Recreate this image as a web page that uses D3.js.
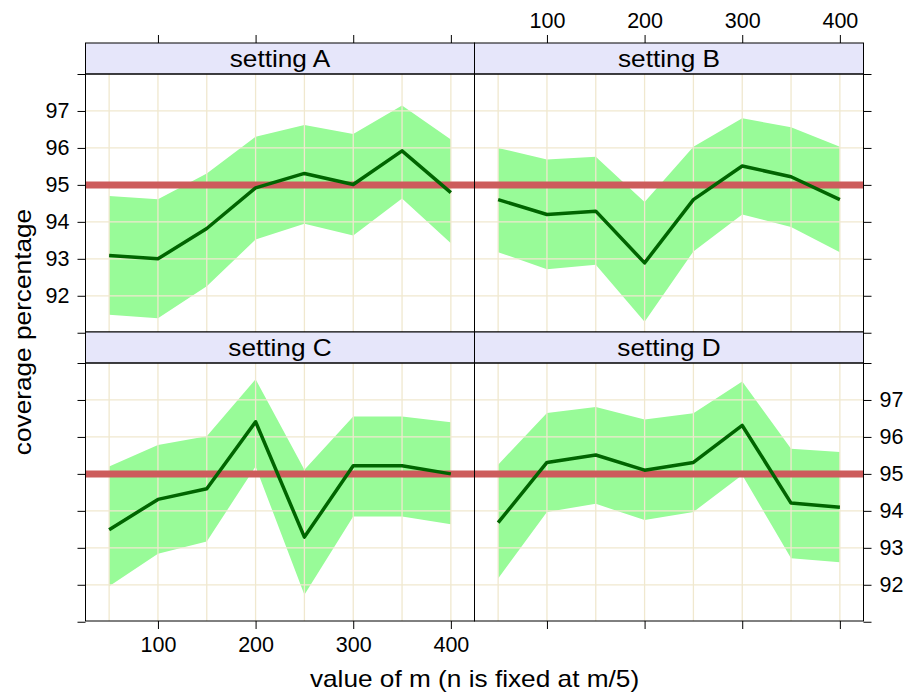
<!DOCTYPE html>
<html>
<head>
<meta charset="utf-8">
<script src="https://cdn.jsdelivr.net/npm/d3@7"></script>
<style>
  body { margin: 0; background: #fff; }
  svg text { font-family: "Liberation Sans", Arial, Helvetica, sans-serif; fill: #000; }
</style>
</head>
<body>
<div id="vis"></div>
<script>
// values of m on the x axis
var mValues = [50, 100, 150, 200, 250, 300, 350, 400];
var settings = ["setting A", "setting B", "setting C", "setting D"];

// coverage estimate, lower and upper band per setting
var estA = [93.09, 93.0, 93.82, 94.92, 95.31, 95.01, 95.92, 94.79];
var lowA = [91.49, 91.39, 92.26, 93.52, 93.95, 93.63, 94.63, 93.42];
var upA  = [94.70, 94.61, 95.31, 96.30, 96.62, 96.38, 97.15, 96.23];

var estB = [94.60, 94.20, 94.29, 92.89, 94.60, 95.51, 95.22, 94.60];
var lowB = [93.18, 92.72, 92.84, 91.30, 93.20, 94.20, 93.86, 93.18];
var upB  = [96.00, 95.69, 95.76, 94.54, 96.03, 96.80, 96.56, 96.03];

var estC = [93.49, 94.31, 94.60, 96.41, 93.29, 95.22, 95.22, 95.0];
var lowC = [91.96, 92.84, 93.17, 95.20, 91.73, 93.85, 93.85, 93.64];
var upC  = [95.20, 95.78, 96.02, 97.56, 95.11, 96.55, 96.55, 96.40];

var estD = [93.68, 95.31, 95.51, 95.10, 95.31, 96.31, 94.21, 94.10];
var lowD = [92.17, 93.97, 94.19, 93.75, 93.97, 94.97, 92.72, 92.61];
var upD  = [95.25, 96.65, 96.81, 96.47, 96.64, 97.50, 95.68, 95.59];

var target = 95;
var xTicks = [100, 200, 300, 400];
var yTicks = [91, 92, 93, 94, 95, 96, 97, 98];
var yLabels = [92, 93, 94, 95, 96, 97];
var xLab = "value of m (n is fixed at m/5)";
var yLab = "coverage percentage";

var width = 908, height = 696;
// note: "top" is taken by window.top, so use other names
var mLeft = 85.5, mRight = 863.5, mTop = 43, mBottom = 621,
    stripH = 31,
    colW = (mRight - mLeft) / 2,
    rowH = (mBottom - mTop) / 2,
    tickLen = 8,
    fontTick = 21.5, fontStrip = 23, fontLab = 23, stretch = 1.14;

var panelData = [
  {name: settings[0], est: estA, low: lowA, up: upA, col: 0, row: 0},
  {name: settings[1], est: estB, low: lowB, up: upB, col: 1, row: 0},
  {name: settings[2], est: estC, low: lowC, up: upC, col: 0, row: 1},
  {name: settings[3], est: estD, low: lowD, up: upD, col: 1, row: 1}
];

var svg = d3.select("#vis").append("svg")
    .attr("width", width)
    .attr("height", height);

panelData.forEach(function(p) {
  var x0 = mLeft + p.col * colW,
      sTop = mTop + p.row * rowH,
      pTop = sTop + stripH,
      pBot = mTop + (p.row + 1) * rowH;

  var x = d3.scaleLinear().domain([25.8, 424.2]).range([x0, x0 + colW]);
  var y = d3.scaleLinear().domain([91.02, 98.0]).range([pBot, pTop]);

  var g = svg.append("g");

  var pts = mValues.map(function(m, i) { return {m: m, est: p.est[i], low: p.low[i], up: p.up[i]} });

  // band
  g.append("path")
      .datum(pts)
      .attr("fill", "#98FB98")
      .attr("d", d3.area()
        .x(function(d) { return x(d.m) })
        .y0(function(d) { return y(d.low) })
        .y1(function(d) { return y(d.up) }));

  // grid
  g.selectAll(".vg").data(mValues).enter().append("line")
      .attr("x1", function(d) { return x(d) }).attr("x2", function(d) { return x(d) })
      .attr("y1", pTop).attr("y2", pBot)
      .attr("stroke", "#F0E8CF").attr("stroke-width", 1.3);
  g.selectAll(".hg").data(yLabels).enter().append("line")
      .attr("x1", x0).attr("x2", x0 + colW)
      .attr("y1", function(d) { return y(d) }).attr("y2", function(d) { return y(d) })
      .attr("stroke", "#F0E8CF").attr("stroke-width", 1.3);

  // reference line
  g.append("line")
      .attr("x1", x0).attr("x2", x0 + colW)
      .attr("y1", y(target)).attr("y2", y(target))
      .attr("stroke", "#CD5C5C").attr("stroke-width", 7);

  // estimate line
  g.append("path")
      .datum(pts)
      .attr("fill", "none")
      .attr("stroke", "#006400")
      .attr("stroke-width", 3.5)
      .attr("stroke-linejoin", "round")
      .attr("d", d3.line()
        .x(function(d) { return x(d.m) })
        .y(function(d) { return y(d.est) }));

  // strip
  g.append("rect")
      .attr("x", x0).attr("y", sTop).attr("width", colW).attr("height", stripH)
      .attr("fill", "#E6E6FA").attr("stroke", "#000").attr("stroke-width", 1);
  g.append("text")
      .attr("transform", "translate(" + (x0 + colW / 2) + "," + (sTop + stripH / 2 + 8) + ") scale(" + stretch + ",1)")
      .attr("text-anchor", "middle")
      .style("font-size", fontStrip + "px")
      .text(p.name);

  // panel border
  g.append("rect")
      .attr("x", x0).attr("y", pTop).attr("width", colW).attr("height", pBot - pTop)
      .attr("fill", "none").attr("stroke", "#000").attr("stroke-width", 1);

  // axes, alternating like lattice
  var lab = function(d) { return d };
  var noLab = function() { return "" };
  var yFmt = function(d) { return yLabels.indexOf(d) >= 0 ? d : "" };

  if (p.row == 0) {
    svg.append("g").attr("class", "axis")
        .attr("transform", "translate(0," + sTop + ")")
        .call(d3.axisTop(x).tickValues(xTicks).tickSize(tickLen).tickPadding(7)
          .tickFormat(p.col == 1 ? lab : noLab));
  } else {
    svg.append("g").attr("class", "axis")
        .attr("transform", "translate(0," + pBot + ")")
        .call(d3.axisBottom(x).tickValues(xTicks).tickSize(tickLen).tickPadding(8)
          .tickFormat(p.col == 0 ? lab : noLab));
  }
  if (p.col == 0) {
    svg.append("g").attr("class", "axis")
        .attr("transform", "translate(" + x0 + ",0)")
        .call(d3.axisLeft(y).tickValues(yTicks).tickSize(tickLen).tickPadding(8)
          .tickFormat(p.row == 0 ? yFmt : noLab));
  } else {
    svg.append("g").attr("class", "axis")
        .attr("transform", "translate(" + (x0 + colW) + ",0)")
        .call(d3.axisRight(y).tickValues(yTicks).tickSize(tickLen).tickPadding(8)
          .tickFormat(p.row == 1 ? yFmt : noLab));
  }
});

svg.selectAll(".axis .domain").remove();
svg.selectAll(".axis line").attr("stroke", "#000");
svg.selectAll(".axis text")
    .style("font-size", fontTick + "px")
    .attr("font-family", null);

// axis titles
svg.append("text")
    .attr("transform", "translate(" + ((mLeft + mRight) / 2) + ",687) scale(" + stretch + ",1)")
    .attr("text-anchor", "middle")
    .style("font-size", fontLab + "px")
    .text(xLab);

svg.append("text")
    .attr("transform", "translate(31," + ((mTop + mBottom) / 2) + ") rotate(-90) scale(" + stretch + ",1)")
    .attr("text-anchor", "middle")
    .style("font-size", fontLab + "px")
    .text(yLab);
</script>
</body>
</html>
